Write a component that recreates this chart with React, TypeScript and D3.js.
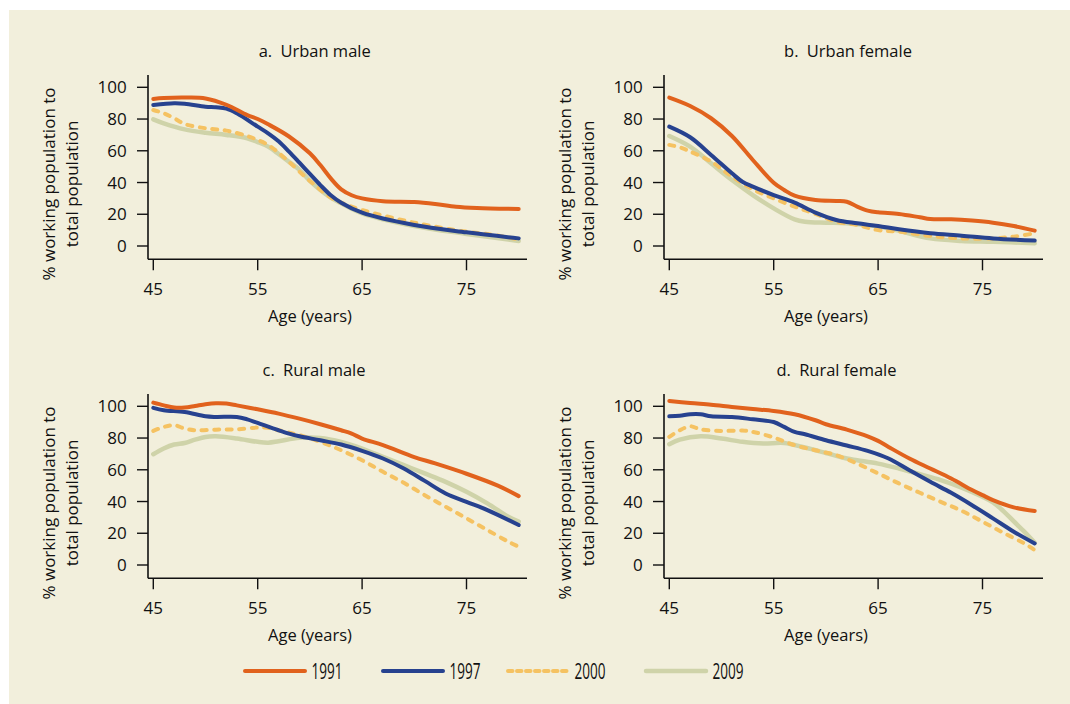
import React from 'react';
import * as d3 from 'd3';

type Pt = [number, number];

// ---- data (age, % working) ----
const urbanMale1991: Pt[] = [[45,92.6],[46,93.2],[48,93.5],[50,93],[52,89],[54,82.5],[55,80],[56,76.7],[58,69],[60,58.4],[61,51],[62,42.6],[63,35.7],[64,32],[65,30],[67,28.2],[70,27.7],[72,26.5],[74,24.8],[76,24],[80,23.3]];
const urbanMale1997: Pt[] = [[45,88.9],[47,90],[48,89.7],[50,87.8],[51,87.4],[52,86.6],[53,83.6],[55,75.2],[56,71],[57,66],[58,59.5],[59,52.5],[60,45.4],[61,38.4],[62,32],[63,27.3],[65,21],[70,13.2],[75,8.6],[80,4.8]];
const urbanMale2000: Pt[] = [[45,85.7],[46,83.6],[47,80.5],[48,76.9],[50,74.2],[52,72.7],[54,69.3],[55,66.8],[56,63.7],[57,58.8],[58,53],[60,41],[62,30.5],[63,27.3],[65,22.7],[70,14.7],[75,9],[77,7.6],[80,4.2]];
const urbanMale2009: Pt[] = [[45,79.8],[46,77.3],[48,73.5],[50,71.4],[52,70],[54,67.9],[55,65.5],[56,62.6],[57,58],[58,53],[59,48],[60,41],[61,35.3],[62,30.5],[63,26.9],[65,20.6],[70,12.6],[75,7.6],[80,3.2]];

const urbanFemale1991: Pt[] = [[45,93.5],[47,88.2],[49,80.5],[51,69.3],[53,54.2],[55,39.9],[56,35.3],[57,31.7],[59,29],[61,28.4],[62,27.9],[63,24.8],[64,22.3],[65,21.2],[67,20.2],[69,18.1],[70,17],[72,16.8],[74,16],[76,14.7],[78,12.6],[80,9.7]];
const urbanFemale1997: Pt[] = [[45,75.2],[47,68.5],[49,57.4],[51,45.8],[52,40.5],[53,37.4],[55,32.1],[57,27.3],[59,21],[61,16.4],[63,14.3],[65,12.6],[67,10.5],[70,8],[73,6.5],[76,4.8],[80,3.4]];
const urbanFemale2000: Pt[] = [[45,63.7],[46,62.2],[47,59.5],[49,53.2],[51,43.7],[53,35.7],[55,30],[57,24.8],[59,20.2],[61,15.3],[63,13.2],[65,10],[67,9],[70,6.3],[73,4.8],[76,4.8],[78,5.9],[80,8]];
const urbanFemale2009: Pt[] = [[45,69.3],[47,62.6],[49,52.1],[51,41.6],[53,32.1],[55,23.7],[57,16.8],[58,15.3],[60,14.7],[62,14.3],[65,12.2],[67,9.5],[70,4.8],[73,3.2],[76,2.7],[80,1.7]];

const ruralMale1991: Pt[] = [[45,102.3],[46,100.6],[47,99.2],[48,99.2],[49,100.2],[50,101.3],[51,101.9],[52,101.7],[53,100.6],[55,98.1],[57,95.4],[59,92.2],[61,88.7],[63,84.9],[64,82.8],[65,79.7],[67,75.5],[70,68],[72,64],[75,57.5],[78,50],[80,43.4]];
const ruralMale1997: Pt[] = [[45,99],[46,97.5],[48,96.4],[50,93.7],[51,93.3],[53,93.3],[54,91.8],[55,89.5],[57,84.9],[58,82.8],[59,81.1],[61,78.6],[63,75.9],[65,71.9],[67,67.1],[69,60.8],[71,53],[73,45.1],[75,39.8],[77,34.6],[80,25.2]];
const ruralMale2000: Pt[] = [[45,84.5],[46,87],[47,88.1],[48,86],[49,84.9],[51,85.3],[53,85.5],[55,86.6],[56,86.4],[57,84.9],[59,81.8],[61,77.6],[63,72.3],[65,66],[67,58.7],[69,51.8],[71,44],[73,36.7],[75,29.4],[77,22],[79,14.7],[80,11.5]];
const ruralMale2009: Pt[] = [[45,69.8],[46,73.4],[47,75.9],[48,76.9],[49,79],[50,80.7],[51,81.1],[53,79.7],[55,77.6],[56,77.1],[57,78],[59,80.1],[61,80.1],[63,77.6],[65,73.4],[67,68.1],[69,62.9],[71,57.7],[73,52.4],[75,46.1],[77,38.8],[79,30.4],[80,27.3]];

const ruralFemale1991: Pt[] = [[45,103.4],[47,102.1],[49,101],[51,99.6],[53,98.3],[55,97.1],[57,95],[59,91.2],[60,88.7],[62,85.3],[64,81.1],[65,78.2],[66,74.4],[68,67.1],[70,60.8],[72,54.5],[74,47.2],[75,44],[76,40.9],[78,36.3],[80,34]];
const ruralFemale1997: Pt[] = [[45,93.7],[46,94.1],[47,95],[48,95],[49,93.7],[51,93.3],[53,91.8],[55,90.1],[56,87],[57,83.9],[58,82.4],[60,78.6],[62,75.3],[64,71.9],[66,67.1],[68,59.7],[70,52.4],[72,45.5],[74,37.7],[76,29.4],[78,21],[80,13.6]];
const ruralFemale2000: Pt[] = [[45,80.7],[46,84.9],[47,87.4],[48,85.5],[50,84.5],[52,84.7],[53,83.9],[55,80.3],[57,75.5],[59,72.3],[61,69.2],[63,63.9],[65,57.7],[67,51.4],[69,45.5],[71,39.8],[73,34.2],[75,27.3],[77,20.3],[79,13.6],[80,9.4]];
const ruralFemale2009: Pt[] = [[45,76.1],[46,79],[48,81.1],[50,79.7],[52,77.6],[54,76.5],[56,76.9],[58,74],[60,70.6],[62,67.1],[63,66],[65,63.9],[67,60.8],[69,57.2],[71,53.5],[73,48.8],[75,43],[76,39.5],[77,34],[78,27.5],[79,21],[80,14]];

const seriesYears = ['1991', '1997', '2000', '2009'];
const panelTitles = ['a.\u2002Urban male', 'b.\u2002Urban female', 'c.\u2002Rural male', 'd.\u2002Rural female'];
const panelData: Record<string, Pt[]>[] = [
  { '1991': urbanMale1991, '1997': urbanMale1997, '2000': urbanMale2000, '2009': urbanMale2009 },
  { '1991': urbanFemale1991, '1997': urbanFemale1997, '2000': urbanFemale2000, '2009': urbanFemale2009 },
  { '1991': ruralMale1991, '1997': ruralMale1997, '2000': ruralMale2000, '2009': ruralMale2009 },
  { '1991': ruralFemale1991, '1997': ruralFemale1997, '2000': ruralFemale2000, '2009': ruralFemale2009 },
];
const xTicks = [45, 55, 65, 75];
const yTicks = [0, 20, 40, 60, 80, 100];
const yTitleLines = ['% working population to', 'total population'];
const xTitle = 'Age (years)';

// ---- styles ----
const W = 1070, H = 704;
const BG = '#f2efdc';
const INK = '#111111';
const FONT = "'Open Sans', sans-serif";
const COLORS: Record<string, string> = { '1991': '#e1621d', '1997': '#27428f', '2000': '#f5c262', '2009': '#cfd3a9' };
const WIDTHS: Record<string, number> = { '1991': 4, '1997': 4, '2000': 4, '2009': 4.5 };
const DRAW_ORDER = ['2009', '2000', '1997', '1991'];

const offsets: [number, number][] = [[0, 0], [516, 0], [0, 319], [516, 319]];
const titleCx = [314.7, 332, 314, 320.5];
const titleCy = 56.7;

const axisX = 148, axisBottom = 259.3, axisTop = 75, axisRight = 527;

function Panel({ idx }: { idx: number }) {
  const [ox, oy] = offsets[idx];
  const x = d3.scaleLinear().domain([45, 80]).range([153.3, 518.7]);
  const y = d3.scaleLinear().domain([0, 100]).range([246, 87.3]);
  const line = d3.line<Pt>().x(d => x(d[0])).y(d => y(d[1])).curve(d3.curveCatmullRom.alpha(0.5));
  const data = panelData[idx];
  return (
    <g transform={`translate(${ox},${oy})`}>
      <text x={titleCx[idx]} y={titleCy} textAnchor="middle" fontSize={16.5} fill={INK} fontFamily={FONT}>{panelTitles[idx]}</text>
      <line x1={axisX} x2={axisX} y1={axisTop} y2={axisBottom} stroke={INK} strokeWidth={1.6} />
      <line x1={axisX} x2={axisRight} y1={axisBottom} y2={axisBottom} stroke={INK} strokeWidth={1.6} />
      {yTicks.map(t => (
        <g key={'y' + t}>
          <line x1={axisX - 11} x2={axisX} y1={y(t)} y2={y(t)} stroke={INK} strokeWidth={1.4} />
          <text x={126.7} y={y(t)} dy="0.36em" textAnchor="end" fontSize={17} fill={INK} fontFamily={FONT}>{t}</text>
        </g>
      ))}
      {xTicks.map(t => (
        <g key={'x' + t}>
          <line x1={x(t)} x2={x(t)} y1={axisBottom} y2={axisBottom + 11} stroke={INK} strokeWidth={1.4} />
          <text x={x(t)} y={295} textAnchor="middle" fontSize={17} fill={INK} fontFamily={FONT}>{t}</text>
        </g>
      ))}
      <text x={310} y={322} textAnchor="middle" fontSize={16.5} fill={INK} fontFamily={FONT}>{xTitle}</text>
      {yTitleLines.map((l, i) => (
        <text key={i} transform={`translate(${55 + i * 23.3},184) rotate(-90)`} textAnchor="middle" fontSize={17} fill={INK} fontFamily={FONT}>{l}</text>
      ))}
      {DRAW_ORDER.map(s => (
        <path key={s} d={line(data[s]) || ''} fill="none" stroke={COLORS[s]} strokeWidth={WIDTHS[s]}
          strokeLinecap="round" strokeLinejoin="round"
          strokeDasharray={s === '2000' ? '5 7.5' : undefined} />
      ))}
    </g>
  );
}

const legendLineX = [245, 383, 508, 646];
const legendLineLen = 60;

export default function App() {
  return (
    <div style={{ position: 'absolute', left: 0, top: 0 }}>
      <svg width={W} height={H} style={{ display: 'block' }}>
        <rect x={0} y={0} width={W} height={H} fill="#ffffff" />
        <rect x={9} y={10} width={W - 9} height={H - 10} fill={BG} />
        {panelTitles.map((_, i) => <Panel key={i} idx={i} />)}
        {seriesYears.map((s, i) => (
          <g key={s}>
            <line x1={legendLineX[i]} x2={legendLineX[i] + legendLineLen} y1={671} y2={671}
              stroke={COLORS[s]} strokeWidth={WIDTHS[s]} strokeLinecap="round"
              strokeDasharray={s === '2000' ? '4.5 4.5' : undefined} />
            <text x={legendLineX[i] + legendLineLen + 6.5} y={678.5} fontSize={21} fill={INK} fontFamily={FONT}
              textLength={31} lengthAdjust="spacingAndGlyphs">{s}</text>
          </g>
        ))}
      </svg>
    </div>
  );
}
